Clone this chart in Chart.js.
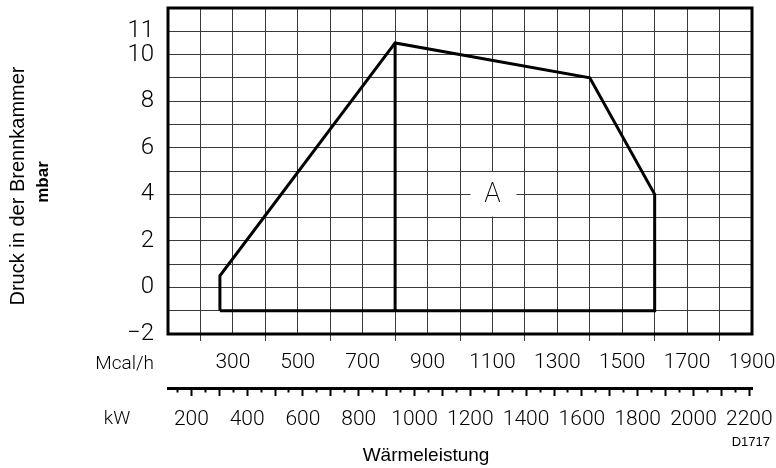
<!DOCTYPE html>
<html>
<head>
<meta charset="utf-8">
<script src="https://cdn.jsdelivr.net/npm/chart.js@4.4.1/dist/chart.umd.min.js"></script>
<style>
  body { margin: 0; background: #fff; }
  #chart { display: block; }
</style>
</head>
<body>
<canvas id="chart" width="776" height="468"></canvas>
<script>
// Arbeitsfeld des Brenners, x in Mcal/h, y in mbar
const fieldMcal = [260, 260, 800, 1400, 1600, 1600, 260];
const fieldMbar = [-1, 0.5, 10.5, 9, 4, -1, -1];
const splitMcal = [800, 800];
const splitMbar = [10.5, -1];

const mcalLabels = [300, 500, 700, 900, 1100, 1300, 1500, 1700, 1900];
const kwLabels = [200, 400, 600, 800, 1000, 1200, 1400, 1600, 1800, 2000, 2200];
const mbarLabels = [-2, 0, 2, 4, 6, 8, 10, 11];

const fieldLabel = { x: 1100, y: 4, text: 'A' };

const KW_PER_MCAL = 1.163;
const MCAL_MIN = 100, MCAL_MAX = 1900;

const numFont = 'Roboto';
const textFont = '"Liberation Sans", Arial, sans-serif';
const gridColor = '#3a3a3a';

function toPoints(xs, ys) {
  return xs.map((x, i) => ({ x: x, y: ys[i] }));
}

// keep the plot area where the reference has it, labels may overhang
function noPad(s) {
  s.paddingTop = 0;
  s.paddingBottom = 0;
  s.paddingLeft = 0;
  s.paddingRight = 0;
}

const extras = {
  id: 'extras',
  beforeDatasetsDraw(chart) {
    const { ctx, scales } = chart;
    const px = scales.x.getPixelForValue(fieldLabel.x);
    const py = scales.y.getPixelForValue(fieldLabel.y);
    const top = scales.y.getPixelForValue(fieldLabel.y + 1) + 1;
    const bottom = scales.y.getPixelForValue(fieldLabel.y - 1) - 1;
    ctx.save();
    ctx.fillStyle = '#fff';
    ctx.fillRect(px - 22, top, 46, bottom - top);
    ctx.fillStyle = '#000';
    ctx.font = '200 27px ' + numFont;
    ctx.textAlign = 'center';
    ctx.textBaseline = 'middle';
    ctx.fillText(fieldLabel.text, px, py + 1);
    ctx.restore();
  },
  afterDraw(chart) {
    const { ctx, chartArea: a } = chart;
    ctx.save();
    // frame
    ctx.strokeStyle = '#000';
    ctx.lineWidth = 3;
    ctx.strokeRect(a.left, a.top, a.right - a.left, a.bottom - a.top);

    ctx.fillStyle = '#000';
    ctx.textBaseline = 'middle';
    ctx.font = '300 19px ' + numFont;
    ctx.textAlign = 'right';
    ctx.fillText('Mcal/h', 154, 364);
    ctx.textAlign = 'center';
    ctx.fillText('kW', 117, 419);

    ctx.font = '19px ' + textFont;
    ctx.fillText('Wärmeleistung', 426, 456);
    ctx.font = '13px ' + textFont;
    ctx.textAlign = 'right';
    ctx.fillText('D1717', 770, 442);

    ctx.translate(18, 186);
    ctx.rotate(-Math.PI / 2);
    ctx.textAlign = 'center';
    ctx.font = '20px ' + textFont;
    ctx.fillText('Druck in der Brennkammer', 0, 0);
    ctx.font = 'bold 17px ' + textFont;
    ctx.fillText('mbar', 4, 25);
    ctx.restore();
  }
};

new Chart(document.getElementById('chart'), {
  type: 'scatter',
  data: {
    datasets: [
      {
        data: toPoints(fieldMcal, fieldMbar),
        showLine: true,
        borderColor: '#000',
        borderWidth: 3,
        borderJoinStyle: 'miter',
        pointRadius: 0,
        fill: false,
        tension: 0
      },
      {
        data: toPoints(splitMcal, splitMbar),
        showLine: true,
        borderColor: '#000',
        borderWidth: 3,
        pointRadius: 0,
        fill: false
      }
    ]
  },
  options: {
    responsive: false,
    animation: false,
    devicePixelRatio: 1,
    layout: { padding: { top: 8, right: 24, left: 0, bottom: 0 } },
    plugins: { legend: { display: false }, tooltip: { enabled: false } },
    scales: {
      x: {
        type: 'linear',
        position: 'bottom',
        weight: 0,
        min: MCAL_MIN,
        max: MCAL_MAX,
        border: { display: false },
        grid: {
          color: gridColor,
          lineWidth: 1,
          tickLength: 7,
          tickColor: c => (c.tick && c.tick.value % 200 === 0) ? gridColor : 'rgba(0,0,0,0)'
        },
        ticks: {
          stepSize: 100,
          autoSkip: false,
          maxRotation: 0,
          padding: 9,
          color: '#000',
          font: { family: numFont, size: 21, weight: 300 },
          callback: v => mcalLabels.includes(v) ? String(v) : ''
        },
        afterFit: s => { s.height = 54; noPad(s); }
      },
      kw: {
        type: 'linear',
        axis: 'x',
        position: 'bottom',
        weight: 1,
        min: MCAL_MIN * KW_PER_MCAL,
        max: MCAL_MAX * KW_PER_MCAL,
        border: { display: true, color: '#000', width: 3 },
        grid: {
          drawOnChartArea: false,
          tickLength: 8,
          tickWidth: 2,
          tickColor: '#000',
          tickBorderDash: c => (c.tick && c.tick.value % 100 === 0) ? [] : [2.5, 20]
        },
        afterBuildTicks: s => {
          const t = [];
          for (let v = 150; v <= 2200; v += 50) t.push({ value: v });
          s.ticks = t;
        },
        ticks: {
          autoSkip: false,
          maxRotation: 0,
          padding: 11,
          color: '#000',
          font: { family: numFont, size: 21, weight: 300 },
          callback: v => kwLabels.includes(v) ? String(v) : ''
        },
        afterFit: s => { s.height = 80; noPad(s); }
      },
      y: {
        type: 'linear',
        min: -2,
        max: 12,
        border: { display: false },
        grid: { color: gridColor, lineWidth: 1, drawTicks: false },
        ticks: {
          stepSize: 1,
          autoSkip: false,
          padding: 14,
          color: '#000',
          font: { family: numFont, size: 24, weight: 300 },
          callback: v => mbarLabels.includes(v) ? (v < 0 ? '\u2212' + (-v) : String(v)) : ''
        },
        afterFit: s => { s.width = 168; noPad(s); }
      }
    }
  },
  plugins: [extras]
});
</script>
</body>
</html>
